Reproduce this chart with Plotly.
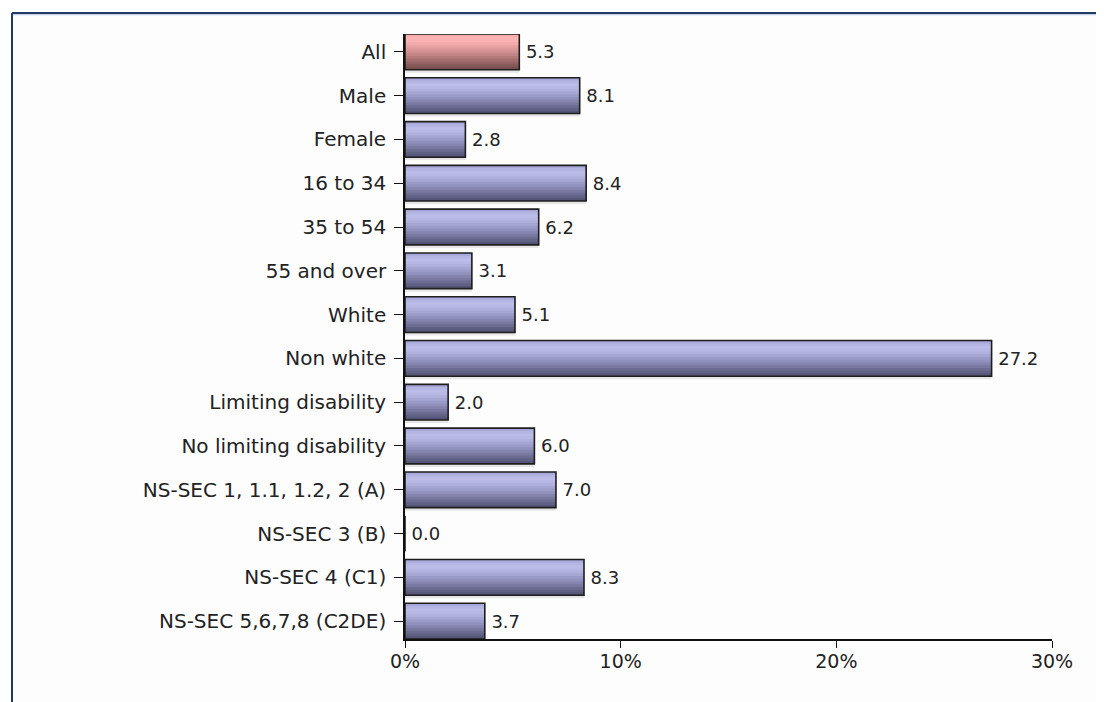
import plotly.graph_objects as go

categories = ["All", "Male", "Female", "16 to 34", "35 to 54", "55 and over", "White",
              "Non white", "Limiting disability", "No limiting disability",
              "NS-SEC 1, 1.1, 1.2, 2 (A)", "NS-SEC 3 (B)", "NS-SEC 4 (C1)", "NS-SEC 5,6,7,8 (C2DE)"]
values = [5.3, 8.1, 2.8, 8.4, 6.2, 3.1, 5.1, 27.2, 2.0, 6.0, 7.0, 0.0, 8.3, 3.7]
value_labels = ["\u2009%.1f" % v for v in values]
x_ticks = [0, 10, 20, 30]
x_tick_labels = ["0%", "10%", "20%", "30%"]

# vertical gradient (top -> bottom) for the bars
blue_grad = ["#a9a9d9", "#b5b5e3", "#bcbce8", "#b8b8e4", "#b0b0dc", "#a6a6d3",
             "#9b9bc8", "#9090bc", "#8484ae", "#7878a0", "#6c6c92", "#606084",
             "#545476"]
pink_grad = ["#fcacac", "#ffb4b4", "#fab2b2", "#f2aaaa", "#e8a2a2", "#dc9898",
             "#d08e8e", "#c28484", "#b47a7a", "#a46e6e", "#946262", "#845858",
             "#764e4e"]
highlight = {"All"}

BW = 0.815
N = len(blue_grad)
font_family = "DejaVu Sans"

# page offset compensation (browser body margin)
OFF = 7
W, H = 1104 - OFF, 702 - OFF
ML, MT = 404 - OFF, 33 - OFF
PW, PH = 647, 605
MR, MB = W - ML - PW, H - MT - PH


def px_x(px):
    return (px - OFF - ML) / PW


def px_y(py):
    return 1 - (py - OFF - MT) / PH


fig = go.Figure()

# shadow
fig.add_trace(go.Bar(
    y=categories, x=values, orientation="h", width=BW, offset=-BW / 2 + 0.07,
    marker=dict(color="rgba(0,0,0,0.09)", line=dict(width=0)),
    hoverinfo="skip", showlegend=False,
))

for k in range(N):
    cols = [pink_grad[k] if c in highlight else blue_grad[k] for c in categories]
    fig.add_trace(go.Bar(
        y=categories, x=values, orientation="h",
        width=BW - k * BW / N, offset=-BW / 2 + k * BW / N,
        marker=dict(color=cols, line=dict(width=0)),
        hoverinfo="skip", showlegend=False,
    ))

# outline + value labels
fig.add_trace(go.Bar(
    y=categories, x=values, orientation="h", width=BW, offset=-BW / 2,
    marker=dict(color="rgba(0,0,0,0)", line=dict(color="#1e1e1e", width=1.6)),
    text=value_labels, textposition="outside", cliponaxis=False,
    textfont=dict(family=font_family, size=18, color="#222222"),
    hoverinfo="skip", showlegend=False,
))

fig.update_layout(
    width=W, height=H,
    barmode="overlay",
    paper_bgcolor="#ffffff", plot_bgcolor="rgba(0,0,0,0)",
    margin=dict(l=ML, r=MR, t=MT, b=MB),
    font=dict(family=font_family, size=19, color="#222222"),
    xaxis=dict(
        range=[0, 30], tickvals=x_ticks, ticktext=x_tick_labels,
        showgrid=False, zeroline=False,
        showline=True, linecolor="#111111", linewidth=1.6,
        ticks="outside", ticklen=7, tickwidth=1.4, tickcolor="#111111",
        ticklabelstandoff=-3,
        tickfont=dict(family=font_family, size=19, color="#222222"),
        fixedrange=True,
    ),
    yaxis=dict(
        categoryorder="array", categoryarray=categories,
        range=[len(categories) - 1 + BW / 2, -BW / 2],
        showgrid=False, zeroline=False,
        showline=True, linecolor="#111111", linewidth=1.6,
        ticks="outside", ticklen=9, tickwidth=1.4, tickcolor="#111111",
        ticklabelstandoff=4,
        tickfont=dict(family=font_family, size=20, color="#222222"),
        fixedrange=True,
    ),
    shapes=[
        dict(type="rect", xref="paper", yref="paper", layer="below",
             x0=px_x(11), x1=px_x(1110), y0=px_y(710), y1=px_y(12),
             fillcolor="#fdfdfd", line=dict(width=0)),
        dict(type="line", xref="paper", yref="paper", x0=px_x(11), x1=px_x(1110),
             y0=px_y(13.5), y1=px_y(13.5), line=dict(color="#c8d0e4", width=1.5)),
        dict(type="line", xref="paper", yref="paper", x0=px_x(11), x1=px_x(1110),
             y0=px_y(12), y1=px_y(12), line=dict(color="#1f3a68", width=2)),
        dict(type="line", xref="paper", yref="paper", x0=px_x(11), x1=px_x(11),
             y0=px_y(12), y1=px_y(710), line=dict(color="#1f3a68", width=2)),
    ],
)

fig.write_html("out.html")
